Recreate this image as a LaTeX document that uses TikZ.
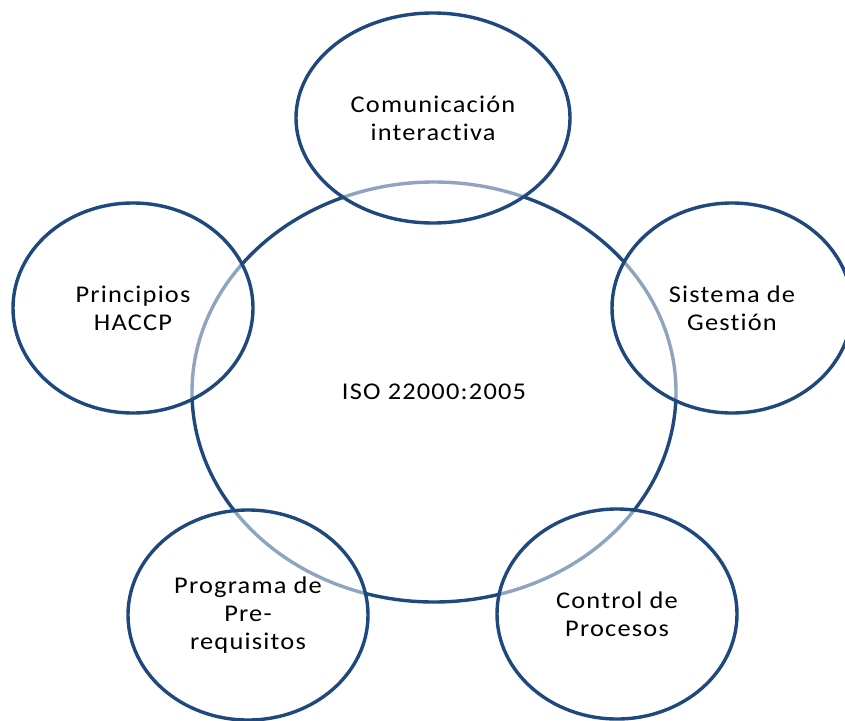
\documentclass[tikz,border=0pt]{standalone}
\usepackage{fontspec}
\setmainfont{Carlito}[FakeStretch=1.1, LetterSpace=5, Ligatures=NoCommon]
\usetikzlibrary{shapes.geometric}
\definecolor{ringblue}{HTML}{1F497D}
\tikzset{
  ring/.style={ellipse, draw=ringblue, line width=3.4pt, inner sep=0pt,
    align=center, font=\fontsize{24}{28}\selectfont, text=black},
  petal/.style={ring, fill=white, fill opacity=0.5, text opacity=1,
    minimum width=240pt, minimum height=210pt}
}
\begin{document}
\begin{tikzpicture}[x=1pt,y=-1pt]
\path[use as bounding box] (0,0) rectangle (845,720);
\clip (0,0) rectangle (845,720);
\node[ring, minimum width=484pt, minimum height=420pt] (iso) at (434,392) {ISO 22000:2005};
\node[petal, minimum width=274pt] (com) at (433,118) {Comunicación\\interactiva};
\node[petal] (hac) at (133,308) {Principios\\HACCP};
\node[petal] (sis) at (732,308) {Sistema de\\Gestión};
\node[petal] (pre) at (248,615) {Programa de\\Pre-\\requisitos};
\node[petal] (con) at (617,614) {Control de\\Procesos};
\end{tikzpicture}
\end{document}
